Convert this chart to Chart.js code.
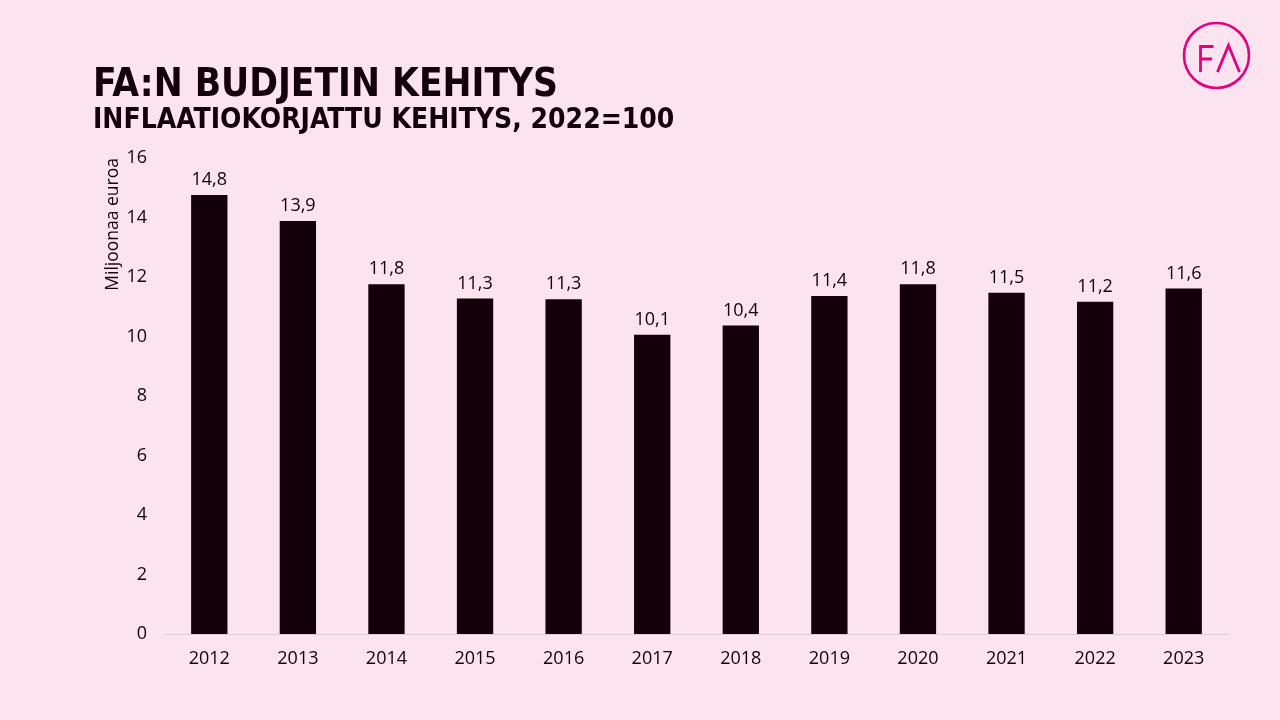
<!DOCTYPE html>
<html>
<head>
<meta charset="utf-8">
<script src="https://cdn.jsdelivr.net/npm/chart.js@4.4.0/dist/chart.umd.min.js"></script>
<style>
    html, body { margin: 0; padding: 0; background: #fbe3ef; }
    #wrap { position: relative; width: 1280px; height: 720px; overflow: hidden; }
    #chart { position: absolute; left: 0; top: 0; }
    .title { position: absolute; left: 93px; color: #14000a; font-family: "DejaVu Sans Condensed", "DejaVu Sans", sans-serif; font-weight: bold; white-space: nowrap; }
    #t1 { top: 60px; font-size: 38.5px; }
    #t2 { top: 102px; font-size: 28px; }
    #logo { position: absolute; left: 1180px; top: 19px; }
</style>
</head>
<body>
<div id="wrap">
    <canvas id="chart" width="1280" height="720"></canvas>
    <div class="title" id="t1">FA:N BUDJETIN KEHITYS</div>
    <div class="title" id="t2">INFLAATIOKORJATTU KEHITYS, 2022=100</div>
    <svg id="logo" width="74" height="74" viewBox="0 0 74 74">
        <circle cx="36.5" cy="36.5" r="32.5" fill="none" stroke="#e5007e" stroke-width="2.6"/>
        <path d="M20.5 53 V27.5 H33.5 M20.5 40 H32" fill="none" stroke="#e5007e" stroke-width="2.8"/>
        <path d="M37.5 53 L48.5 26.5 L59.5 53" fill="none" stroke="#e5007e" stroke-width="2.8"/>
    </svg>
</div>
<script>
const years = ['2012', '2013', '2014', '2015', '2016', '2017', '2018', '2019', '2020', '2021', '2022', '2023'];
const budget = [14.76, 13.88, 11.76, 11.28, 11.25, 10.06, 10.37, 11.36, 11.76, 11.47, 11.17, 11.61];
const yTicks = [0, 2, 4, 6, 8, 10, 12, 14, 16];

const ink = '#14000a';
const fontFamily = '"Open Sans", "Noto Sans", sans-serif';

const valueLabels = {
    id: 'valueLabels',
    afterDatasetsDraw(chart) {
        const ctx = chart.ctx;
        const meta = chart.getDatasetMeta(0);
        ctx.save();
        ctx.fillStyle = ink;
        ctx.font = `18px ${fontFamily}`;
        ctx.textAlign = 'center';
        ctx.textBaseline = 'bottom';
        meta.data.forEach((bar, i) => {
            const txt = budget[i].toFixed(1).replace('.', ',');
            ctx.fillText(txt, bar.x, bar.y - 6);
        });
        ctx.restore();
    }
};

new Chart(document.getElementById('chart'), {
    type: 'bar',
    data: {
        labels: years,
        datasets: [{
            data: budget,
            backgroundColor: ink,
            barPercentage: 0.41,
            categoryPercentage: 1
        }]
    },
    options: {
        responsive: false,
        animation: false,
        layout: { padding: { top: 158, left: 103, right: 52, bottom: 36 } },
        plugins: {
            legend: { display: false },
            tooltip: { enabled: false }
        },
        scales: {
            x: {
                grid: { display: false, drawTicks: false },
                border: { display: true, color: '#dcd0d8', width: 1 },
                ticks: { color: ink, font: { family: fontFamily, size: 18 }, padding: 14 },
                afterFit(axis) { axis.height = 50; }
            },
            y: {
                min: 0,
                max: 16,
                afterBuildTicks(axis) { axis.ticks = yTicks.map(v => ({ value: v })); },
                grid: { display: false, drawTicks: false },
                border: { display: false },
                ticks: { color: ink, font: { family: fontFamily, size: 18 }, padding: 18 },
                title: {
                    display: true,
                    text: 'Miljoonaa euroa',
                    align: 'end',
                    color: ink,
                    font: { family: fontFamily, size: 17.5 },
                    padding: { top: 0, bottom: 0 }
                },
                afterFit(axis) { axis.width = 62; }
            }
        }
    },
    plugins: [valueLabels]
});
</script>
</body>
</html>
